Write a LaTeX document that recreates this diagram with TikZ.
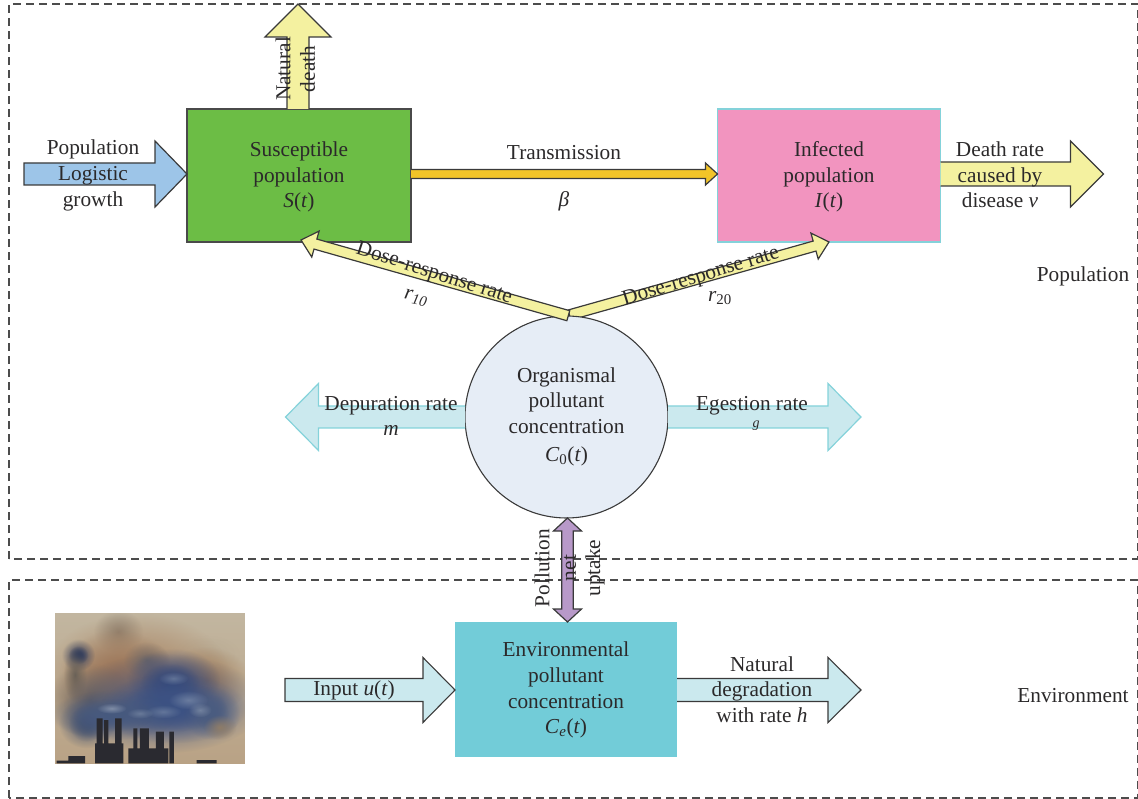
\documentclass[tikz,border=0pt]{standalone}
\usepackage{fontspec}
\setmainfont{Liberation Serif}
\usetikzlibrary{calc,shapes.geometric,fadings}
\definecolor{ink}{HTML}{2B292A}
\definecolor{edgeline}{HTML}{3A3A3A}
\definecolor{boxline}{HTML}{4A4A4A}
\definecolor{tealline}{HTML}{84D2DA}
\definecolor{paleteal}{HTML}{CBE9EE}
\definecolor{paleyellow}{HTML}{F4F1A0}
\definecolor{phototop}{HTML}{C2B6A0}
\definecolor{photobot}{HTML}{B9A285}
\definecolor{stackdark}{HTML}{2A2A30}
\tikzfading[name=softblob,inner color=transparent!0,outer color=transparent!100]
\newcommand{\dn}{\rule{0pt}{18pt}}
\newcommand{\blockarrow}[7]{%
  \coordinate (hb) at ($(#3)!#6!(#2)$);
  \path[#1] ($(#2)!#4!90:(#3)$) -- ($(hb)!#4!90:(#3)$) -- ($(hb)!#5!90:(#3)$) -- (#3)
    -- ($(hb)!#5!-90:(#3)$) -- ($(hb)!#4!-90:(#3)$) -- ($(#2)!#4!-90:(#3)$) #7;}
\newcommand{\twowayarrow}[6]{%
  \coordinate (ha) at ($(#2)!#6!(#3)$);
  \coordinate (hb) at ($(#3)!#6!(#2)$);
  \path[#1] (#2) -- ($(ha)!#5!90:(#3)$) -- ($(ha)!#4!90:(#3)$) -- ($(hb)!#4!90:(#3)$)
    -- ($(hb)!#5!90:(#3)$) -- (#3) -- ($(hb)!#5!-90:(#3)$) -- ($(hb)!#4!-90:(#3)$)
    -- ($(ha)!#4!-90:(#3)$) -- ($(ha)!#5!-90:(#3)$) -- cycle;}
\tikzset{
  x=1pt,y=-1pt,
  every node/.style={text=ink,font=\fontsize{21.3}{25.7}\selectfont,inner sep=0pt,outer sep=0pt,align=center},
  regionbox/.style={draw=black!70,line width=1.25pt,dash pattern=on 8pt off 5pt},
  stockbox/.style={rectangle,anchor=center},
  darkarrow/.style={draw=edgeline,line width=1.2pt,line join=miter},
  tealarrow/.style={fill=paleteal,draw=tealline,line width=1.2pt,line join=miter},
  steelarrow/.style={fill=paleteal,draw=edgeline,line width=1.1pt,line join=miter},
  yellowarrow/.style={darkarrow,fill=paleyellow},
  lbl/.style={anchor=center}
}
\begin{document}
\begin{tikzpicture}
\useasboundingbox (0,0) rectangle (1138,799);
% regions
\draw[regionbox] (9,559) -- (9,4) -- (1137.5,4) -- (1137.5,559) -- cycle;
\draw[regionbox] (9,798) -- (9,580) -- (1137.5,580) -- (1137.5,798) -- cycle;
% photo
\begin{scope}[shift={(30,600)},x=0.33333pt,y=-0.33333pt]
  \clip (75,40) rectangle (645,490);
  \fill[top color=phototop,bottom color=photobot] (75,40) rectangle (645,490);
  \foreach \cx/\cy/\rx/\ry/\col/\op in {
    265/95/75/65/8E8272/1, 530/165/100/60/B4A68F/0.6,
    320/230/280/190/A57E5C/1, 260/220/170/130/9A7458/1, 350/180/70/55/6C6666/0.9,
    530/240/130/100/A07A56/1, 145/165/50/48/2F3B5C/1, 145/165/30/28/2F3B5C/1, 135/225/35/80/6A6258/1,
    180/300/130/110/6E6258/1, 170/370/85/75/46536E/1, 170/370/55/55/46536E/1,
    400/310/300/150/3F5382/1, 430/240/140/95/36497A/1, 420/250/90/60/36497A/1,
    430/325/220/105/3C5284/1, 430/320/160/75/3C5284/1,
    250/345/190/75/46597F/1, 250/345/120/50/46597F/1,
    545/340/85/80/4A5C80/1, 545/340/50/55/4A5C80/0.9,
    475/300/60/28/8898B2/0.6, 400/335/55/20/8898B2/0.5, 430/235/45/20/7F8FAA/0.6,
    245/325/45/16/98A4B8/0.7, 330/340/40/16/8090AA/0.6, 510/330/35/22/8E9CB2/0.6,
    570/382/50/38/8E7C68/1}
  { \definecolor{blobcol}{HTML}{\col}
    \fill[blobcol,path fading=softblob,opacity=\op] (\cx,\cy) ellipse [x radius=\rx,y radius=\ry]; }
  \fill[stackdark]
    (200,355) rectangle (218,490) (222,360) rectangle (235,490) (255,355) rectangle (275,490)
    (310,385) rectangle (322,490) (330,385) rectangle (357,490) (378,395) rectangle (402,490)
    (418,395) rectangle (432,490) (195,430) rectangle (280,490) (295,445) rectangle (415,490)
    (115,468) rectangle (165,490) (80,482) rectangle (115,490) (500,480) rectangle (560,490);
\end{scope}
% compartments
\node[stockbox,fill={rgb,255:red,108;green,189;blue,69},draw=boxline,line width=1.1pt,minimum width=224pt,minimum height=133pt] (S) at (299,175.5)
  {\dn Susceptible\\population\\\textit{S}(\textit{t})};
\node[stockbox,fill={rgb,255:red,242;green,148;blue,191},draw=tealline,line width=1.1pt,minimum width=223pt,minimum height=133pt] (I) at (829,175.5)
  {\dn Infected\\population\\\textit{I}(\textit{t})};
\node[stockbox,fill={rgb,255:red,114;green,204;blue,216},minimum width=222pt,minimum height=135pt] (E) at (566,689.5)
  {\rule{0pt}{16pt}Environmental\\pollutant\\concentration\\\textit{C}\textsubscript{\textit{e}}(\textit{t})};
% free ends
\coordinate (doseFootR) at (569.5,315);
\coordinate (doseFootL) at (568.3,315.7);
\coordinate (doseS) at (301,240);
\coordinate (doseI) at (829,242);
\blockarrow{yellowarrow}{doseFootR}{doseI}{5.2pt}{13.5pt}{15pt}{-- cycle}
\node[ellipse,fill={rgb,255:red,230;green,237;blue,246},draw=edgeline,line width=1.1pt,minimum width=203pt,minimum height=202pt] (C) at (566.5,417) {};
\coordinate (popTail) at (24,174);
\coordinate (popTip) at ($(S.west)+(0,-1.5)$);
\coordinate (deathBase) at (298,109);
\coordinate (deathTip) at (298,4);
\coordinate (transA) at ($(S.east)+(0,-1.5)$);
\coordinate (transB) at ($(I.west)+(0,-1.5)$);
\coordinate (killA) at ($(I.east)+(0,-1.5)$);
\coordinate (killB) at (1103.5,174);
\coordinate (depTip) at (285.5,417);
\coordinate (egeTip) at (861,417);
\coordinate (netTop) at ($(C.south)+(1,0)$);
\coordinate (netBot) at ($(E.north)+(1.5,0)$);
\coordinate (inTail) at (285,690);
\coordinate (inTip) at ($(E.west)+(0,0.5)$);
\coordinate (degA) at ($(E.east)+(0,0.5)$);
\coordinate (degB) at (861,690);
% connectors
\blockarrow{darkarrow,fill={rgb,255:red,157;green,197;blue,232}}{popTail}{popTip}{11pt}{33pt}{32pt}{-- cycle}
\blockarrow{yellowarrow}{deathBase}{deathTip}{11pt}{33pt}{33pt}{}
\blockarrow{darkarrow,fill={rgb,255:red,242;green,196;blue,40}}{transA}{transB}{4.5pt}{11pt}{12pt}{}
\blockarrow{yellowarrow}{killA}{killB}{12pt}{33pt}{33pt}{}
\blockarrow{yellowarrow}{doseFootL}{doseS}{5.2pt}{13.5pt}{15pt}{-- cycle}
\blockarrow{tealarrow}{C.west}{depTip}{11pt}{33.5pt}{33pt}{}
\blockarrow{tealarrow}{C.east}{egeTip}{11pt}{33.5pt}{33pt}{}
\twowayarrow{darkarrow,fill={rgb,255:red,184;green,153;blue,201}}{netTop}{netBot}{5.8pt}{14pt}{13pt}
\blockarrow{steelarrow}{inTail}{inTip}{11.5pt}{32.5pt}{32pt}{-- cycle}
\blockarrow{steelarrow}{degA}{degB}{11.5pt}{32.5pt}{33pt}{}
% labels
\node[lbl] (Ctext) at (566.5,416.5) {Organismal\\pollutant\\concentration\\[2pt]\textit{C}\textsubscript{0}(\textit{t})};
\node[lbl] (tPop) at (93,175.5) {Population\\Logistic\\growth};
\node[lbl,rotate=90] (tNat) at (283,69) {Natural};
\node[lbl,rotate=90] (tDth) at (307.5,69) {death};
\node[lbl] (tTr) at (564,153) {Transmission};
\node[lbl] (tBeta) at (564,201.5) {\textit{β}};
\node[lbl] (tDeath) at (1000,175) {Death rate\\caused by\\disease \textit{ν}};
\node[lbl] (tPopR) at (1083,276) {Population};
\node[lbl] (tEnv) at (1073,696) {Environment};
\node[lbl,rotate=-18] (tD1) at (434,274) {Dose-response rate};
\node[lbl,rotate=-12] (tR1) at (416,298) {\textit{r}\textsubscript{\textit{10}}};
\node[lbl,rotate=17] (tD2) at (701,277) {Dose-response rate};
\node[lbl] (tR2) at (720,298) {\textit{r}\textsubscript{20}};
\node[lbl] (tDep) at (391,405.5) {Depuration rate};
\node[lbl] (tM) at (391,430) {\textit{m}};
\node[lbl] (tEge) at (752,405.5) {Egestion rate};
\node[lbl,font=\fontsize{14}{16}\selectfont] (tG) at (756,426) {\textit{g}};
\node[lbl,rotate=90] (tPol) at (542,568) {Pollution};
\node[lbl,rotate=90] (tNet) at (570,568) {net};
\node[lbl,rotate=90] (tUpt) at (595,568) {uptake};
\node[lbl] (tIn) at (354,690.5) {Input \textit{u}(\textit{t})};
\node[lbl] (tDeg) at (762,689.5) {Natural\\degradation\\with rate \textit{h}};
\end{tikzpicture}
\end{document}
